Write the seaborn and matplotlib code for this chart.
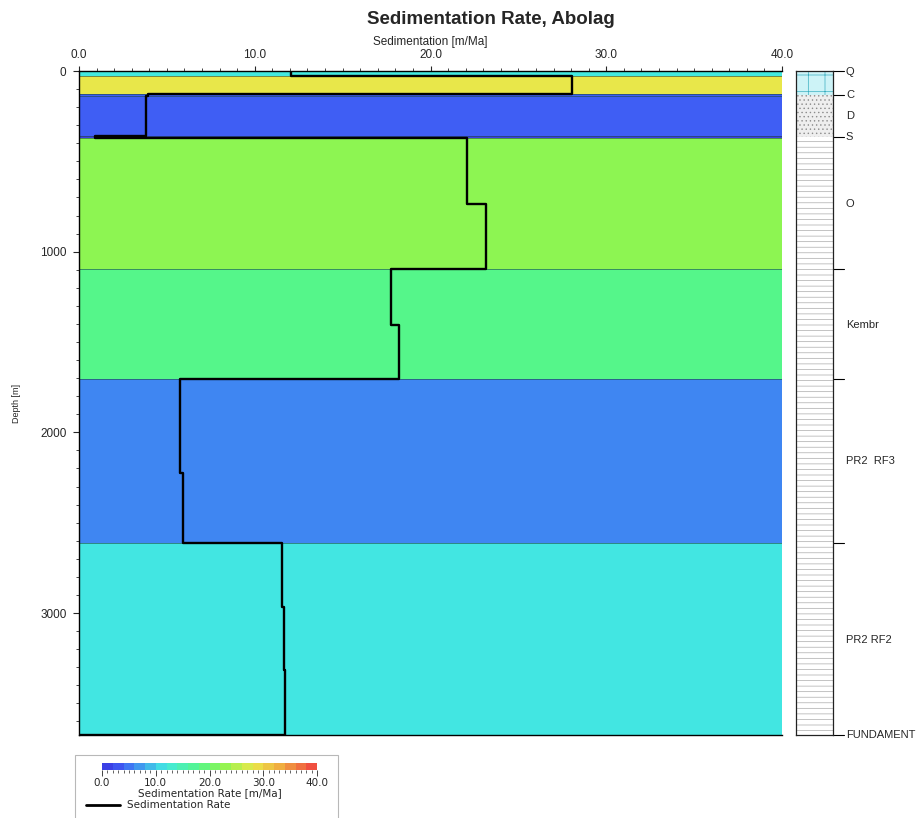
import numpy as np
import pandas as pd
import matplotlib
matplotlib.use('Agg')
import matplotlib.pyplot as plt
import seaborn as sns
from matplotlib.colors import LinearSegmentedColormap, ListedColormap, Normalize
from matplotlib.patches import Rectangle
from matplotlib.lines import Line2D
from matplotlib.ticker import MultipleLocator, FormatStrFormatter

sns.set_style('ticks')
plt.rcParams['font.family'] = ['Liberation Sans', 'DejaVu Sans']
plt.rcParams['hatch.linewidth'] = 0.5

# 地层（填色）
layer_tops = [0, 28, 127, 140, 360, 371, 1097, 1704, 2610]
layer_bottoms = [28, 127, 140, 360, 371, 1097, 1704, 2610, 3675]
layer_rates = [12.0, 28.0, 3.95, 3.8, 0.9, 22.6, 17.9, 5.8, 11.6]

# 沉积速率曲线（阶梯）
seg_tops = [0, 28, 127, 140, 360, 371, 736, 1097, 1405, 1704, 2225, 2610, 2966, 3315]
seg_bottoms = [28, 127, 140, 360, 371, 736, 1097, 1405, 1704, 2225, 2610, 2966, 3315, 3675]
seg_rates = [12.06, 28.05, 3.95, 3.81, 0.91, 22.05, 23.16, 17.73, 18.2, 5.75, 5.93, 11.55, 11.65, 11.72]

# 岩性柱
lith_tops = [0, 135, 365]
lith_bottoms = [135, 365, 3675]
lith_ticks = [0, 135, 365, 1097, 1704, 2610, 3675]
lith_names = ['Q', 'C', 'D', 'S', 'O', 'Kembr', 'PR2  RF3', 'PR2 RF2', 'FUNDAMENT']
lith_name_depths = [5, 133, 249, 365, 736, 1406, 2158, 3148, 3675]

# 色标
cmap_vals = [0.0, 3.9, 5.8, 11.7, 17.9, 22.6, 28.0, 33.0, 40.0]
cmap_cols = ['#3a36e0', '#3f5ff5', '#3f86f2', '#42e8e2', '#55f68a', '#8df552', '#e8e84a', '#f0b040', '#f04040']
cmap = LinearSegmentedColormap.from_list('sed', [(v / 40.0, c) for v, c in zip(cmap_vals, cmap_cols)])
norm = Normalize(0, 40)

W, H = 918, 818
fig = plt.figure(figsize=(W / 100, H / 100), dpi=100)
fig.patch.set_facecolor('white')


def fx(px):
    return px / W


def fy(py):
    return 1 - py / H


ax = fig.add_axes([fx(79), fy(735), fx(703), 664 / H])
for t, b, r in zip(layer_tops, layer_bottoms, layer_rates):
    ax.barh((t + b) / 2, 40, height=b - t, left=0, color=cmap(norm(r)), edgecolor='none', zorder=1)
ax.hlines(layer_tops[1:], 0, 40, color='#1e4a44', lw=0.7, alpha=0.6, zorder=2)

xs, ys = [], []
for t, b, r in zip(seg_tops, seg_bottoms, seg_rates):
    xs += [r, r]
    ys += [t, b]
xs.append(0)
ys.append(seg_bottoms[-1])
curve = pd.DataFrame({'rate': xs, 'depth': ys})
sns.lineplot(data=curve, x='rate', y='depth', sort=False, estimator=None, color='black', lw=1.7, ax=ax, zorder=3)

ax.set_xlim(0, 40)
ax.set_ylim(layer_bottoms[-1], 0)
ax.xaxis.tick_top()
ax.xaxis.set_label_position('top')
ax.xaxis.set_major_locator(MultipleLocator(10))
ax.xaxis.set_minor_locator(MultipleLocator(1))
ax.xaxis.set_major_formatter(FormatStrFormatter('%.1f'))
ax.yaxis.set_major_locator(MultipleLocator(1000))
ax.yaxis.set_minor_locator(MultipleLocator(100))
ax.tick_params(axis='x', which='major', length=3.5, pad=3.5, labelsize=8.5, width=0.8)
ax.tick_params(axis='x', which='minor', length=2.5, width=0.6)
ax.tick_params(axis='y', which='major', length=4, pad=5, labelsize=8.5, width=0.8)
ax.tick_params(axis='y', which='minor', length=2.5, width=0.6)
ax.set_xlabel('Sedimentation [m/Ma]', fontsize=8.5)
ax.xaxis.set_label_coords(0.5, 1 + 26 / 664)
ax.set_ylabel('Depth [m]', fontsize=6.5)
ax.yaxis.set_label_coords(-58 / 703, 0.5)
for s in ['left', 'top', 'bottom']:
    ax.spines[s].set_linewidth(1.0)
    ax.spines[s].set_color('black')
ax.spines['right'].set_visible(False)

fig.text(fx(367), fy(20), 'Sedimentation Rate, Abolag', ha='left', va='center',
         fontsize=13.5, fontweight='bold')

# 岩性柱
lax = fig.add_axes([fx(796), fy(735), fx(37), 664 / H])
lith_fill = ['#cdf3f7', '#eeeeee', 'white']
lith_hatch = ['+', '....', '---']
lith_edge = ['#3aaec0', '#8c8c8c', '#ababab']
for t, b, fc, hc, ec in zip(lith_tops, lith_bottoms, lith_fill, lith_hatch, lith_edge):
    lax.barh((t + b) / 2, 1, height=b - t, left=0, color=fc, hatch=hc, edgecolor=ec, linewidth=0)
lax.set_xlim(0, 1)
lax.set_ylim(layer_bottoms[-1], 0)
lax.set_xticks([])
lax.set_yticks([])
for s in lax.spines.values():
    s.set_linewidth(0.9)
    s.set_color('#222222')
for d in lith_ticks:
    lax.plot([1, 1.3], [d, d], color='black', lw=0.8, clip_on=False)
for name, d in zip(lith_names, lith_name_depths):
    lax.text(1.35, d, name, ha='left', va='center', fontsize=8, clip_on=False)

# 图例
fig.patches.append(Rectangle((fx(75), fy(830)), fx(263), 75 / H, transform=fig.transFigure,
                             facecolor='white', edgecolor='#b8b8b8', lw=0.8, zorder=-1))
cax = fig.add_axes([fx(102), fy(770), fx(215), 7 / H])
cax.set_zorder(2)
n_blocks = 20
block_cmap = ListedColormap(cmap((np.arange(n_blocks) + 0.5) / n_blocks))
cb = fig.colorbar(plt.cm.ScalarMappable(norm=norm, cmap=block_cmap), cax=cax, orientation='horizontal')
cb.outline.set_visible(False)
cb.set_ticks([0, 10, 20, 30, 40])
cb.ax.xaxis.set_minor_locator(MultipleLocator(1))
cb.ax.xaxis.set_major_formatter(FormatStrFormatter('%.1f'))
cb.ax.tick_params(which='major', length=4, width=0.6, pad=1.5, labelsize=7.5)
cb.ax.tick_params(which='minor', length=2.5, width=0.5)
for lab in cb.ax.get_xticklabels():
    lab.set_family('DejaVu Sans')
cb.set_label('Sedimentation Rate [m/Ma]', fontsize=7.5, family='DejaVu Sans', labelpad=0)

fig.lines.append(Line2D([fx(86), fx(120)], [fy(805), fy(805)], transform=fig.transFigure,
                        color='black', lw=2))
fig.text(fx(127), fy(805), 'Sedimentation Rate', ha='left', va='center', fontsize=7.5,
         family='DejaVu Sans')

fig.savefig('out.png', dpi=100)
